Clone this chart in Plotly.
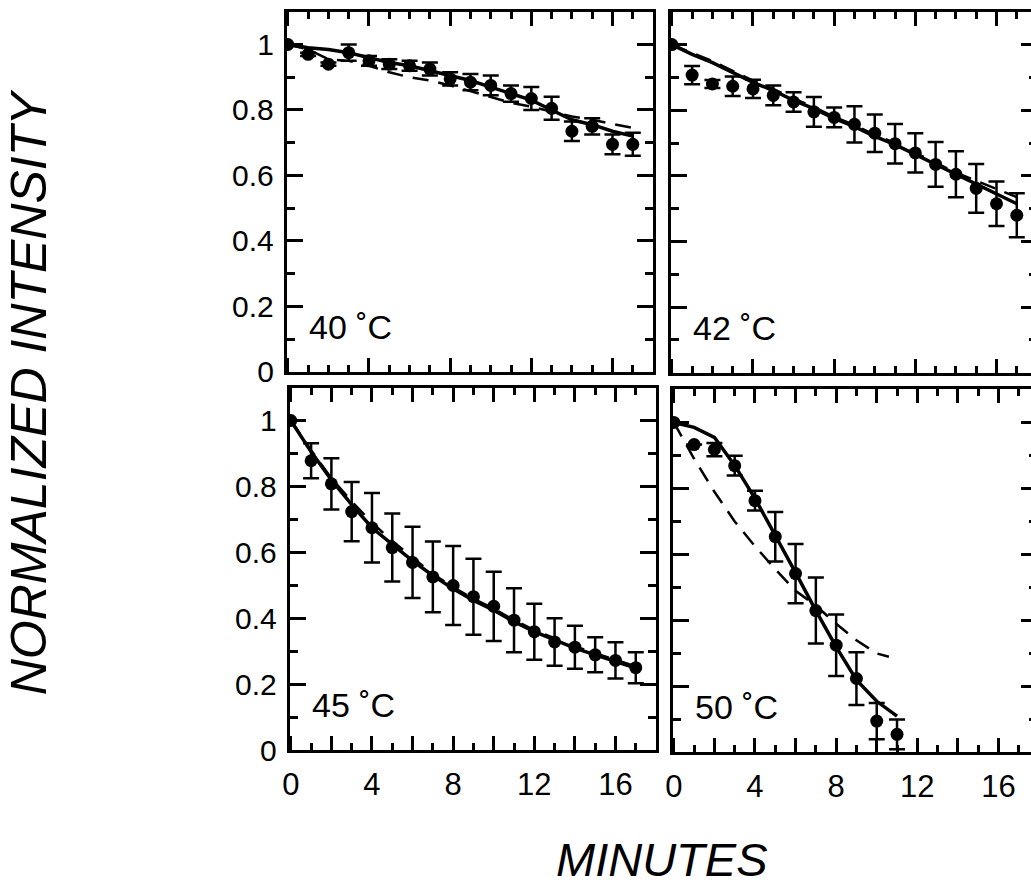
import plotly.graph_objects as go

# ---------------- data ----------------
minutes = list(range(18))

i40 = [1.0, 0.97, 0.94, 0.975, 0.95, 0.94, 0.935, 0.925, 0.895, 0.885, 0.875, 0.85, 0.835, 0.805, 0.735, 0.75, 0.695, 0.695]
e40 = [0, 0.005, 0.005, 0.025, 0.015, 0.015, 0.015, 0.02, 0.02, 0.025, 0.03, 0.025, 0.035, 0.035, 0.03, 0.025, 0.03, 0.035]
s40 = [1.0, 0.99, 0.985, 0.975, 0.96, 0.945, 0.935, 0.92, 0.905, 0.89, 0.87, 0.85, 0.83, 0.80, 0.77, 0.755, 0.735, 0.72]
d40 = [1.0, 0.985, 0.955, 0.95, 0.935, 0.915, 0.90, 0.89, 0.875, 0.857, 0.84, 0.822, 0.81, 0.795, 0.78, 0.77, 0.757, 0.745]

i42 = [1.0, 0.907, 0.88, 0.873, 0.865, 0.845, 0.825, 0.795, 0.778, 0.757, 0.73, 0.698, 0.67, 0.635, 0.605, 0.562, 0.515, 0.48]
e42 = [0, 0.028, 0.012, 0.03, 0.028, 0.03, 0.03, 0.045, 0.03, 0.055, 0.057, 0.06, 0.06, 0.068, 0.07, 0.074, 0.068, 0.067]
s42 = [1.0, 0.97, 0.945, 0.915, 0.885, 0.86, 0.83, 0.805, 0.775, 0.75, 0.72, 0.695, 0.665, 0.635, 0.605, 0.575, 0.545, 0.515]
d42 = [1.0, 0.975, 0.95, 0.92, 0.89, 0.865, 0.835, 0.81, 0.78, 0.755, 0.725, 0.70, 0.67, 0.64, 0.61, 0.585, 0.56, 0.535]

i45 = [1.0, 0.878, 0.808, 0.724, 0.675, 0.615, 0.57, 0.526, 0.50, 0.466, 0.437, 0.395, 0.36, 0.329, 0.313, 0.29, 0.273, 0.251]
e45 = [0, 0.053, 0.078, 0.09, 0.105, 0.103, 0.108, 0.107, 0.12, 0.115, 0.105, 0.097, 0.085, 0.072, 0.065, 0.053, 0.055, 0.047]
s45 = [1.0, 0.905, 0.82, 0.745, 0.675, 0.625, 0.575, 0.53, 0.49, 0.455, 0.425, 0.39, 0.36, 0.335, 0.31, 0.29, 0.27, 0.25]
d45 = [1.0, 0.91, 0.825, 0.755, 0.69, 0.635, 0.585, 0.535, 0.495, 0.46, 0.43, 0.395, 0.365, 0.34, 0.315, 0.295, 0.275, 0.255]

minutes50 = list(range(12))
i50 = [1.0, 0.933, 0.918, 0.869, 0.763, 0.654, 0.542, 0.43, 0.325, 0.224, 0.095, 0.055]
e50 = [0, 0.0, 0.02, 0.03, 0.03, 0.075, 0.09, 0.10, 0.093, 0.08, 0.055, 0.045]
s50 = [1.0, 0.985, 0.955, 0.87, 0.77, 0.66, 0.545, 0.43, 0.32, 0.22, 0.155, 0.11]
dx50 = [0, 1, 2, 3, 4, 5, 6, 7, 8, 9, 10, 10.6]
d50 = [1.0, 0.89, 0.79, 0.70, 0.625, 0.555, 0.49, 0.445, 0.39, 0.34, 0.30, 0.29]

panel_labels = ["40 ˚C", "42 ˚C", "45 ˚C", "50 ˚C"]
y_tickvals = [0, 0.2, 0.4, 0.6, 0.8, 1.0]
y_ticktext = ["0", "0.2", "0.4", "0.6", "0.8", "1"]
x_tickvals = [0, 2, 4, 6, 8, 10, 12, 14, 16]
x_ticktext = ["0", "", "4", "", "8", "", "12", "", "16"]

# ---------------- figure ----------------
W, H = 1031, 896
FONT = "Liberation Sans, Arial, Helvetica, sans-serif"

def px_x(a, b):
    return [a / W, b / W]

def px_y(top, bottom):
    return [(H - bottom) / H, (H - top) / H]

panels = [
    ("x", "y", (281, 650), (12, 379), minutes, i40, e40, minutes, s40, minutes, d40),
    ("x2", "y2", (668, 1031), (12, 380), minutes, i42, e42, minutes, s42, minutes, d42),
    ("x3", "y3", (284, 653), (395, 765), minutes, i45, e45, minutes, s45, minutes, d45),
    ("x4", "y4", (670, 1031), (397, 767), minutes50, i50, e50, minutes50, s50, dx50, d50),
]

PXMIN = 20.45
fig = go.Figure()

for k, (xa, ya, xd, yd, mx, my, me, sx, sy, dx, dy) in enumerate(panels):
    fig.add_trace(go.Scatter(x=dx, y=dy, mode="lines", xaxis=xa, yaxis=ya,
                             line=dict(color="black", width=2.5, dash="16px,10px"),
                             showlegend=False))
    fig.add_trace(go.Scatter(x=sx, y=sy, mode="lines", xaxis=xa, yaxis=ya,
                             line=dict(color="black", width=3.5),
                             showlegend=False))
    fig.add_trace(go.Scatter(x=mx, y=my, mode="markers", xaxis=xa, yaxis=ya,
                             marker=dict(color="black", size=13),
                             error_y=dict(type="data", array=me, visible=True,
                                          color="black", thickness=2.5, width=8),
                             showlegend=False))

layout = dict(width=W, height=H, margin=dict(l=0, r=0, t=0, b=0),
              paper_bgcolor="white", plot_bgcolor="white", showlegend=False,
              font=dict(family=FONT, color="black"))

for k, (xa, ya, xd, yd, *_rest) in enumerate(panels):
    xn = "xaxis" + xa[1:]
    yn = "yaxis" + ya[1:]
    left_col = k in (0, 2)
    bottom_row = k in (2, 3)
    x0 = -0.05
    x1 = x0 + (xd[1] - xd[0]) / PXMIN
    layout[xn] = dict(domain=px_x(*xd), range=[x0, x1], anchor=ya,
                      showline=True, linecolor="black", linewidth=3, mirror="ticks",
                      ticks="inside", ticklen=14, tickwidth=3, tickcolor="black",
                      tickvals=x_tickvals, ticktext=x_ticktext,
                      showticklabels=bottom_row, ticklabelstandoff=4,
                      tickfont=dict(size=31, family=FONT, color="black"),
                      minor=dict(dtick=1, ticklen=7, tickwidth=2.5, tickcolor="black", ticks="inside"),
                      showgrid=False, zeroline=False, fixedrange=True)
    layout[yn] = dict(domain=px_y(*yd), range=[0, 1.1], anchor=xa,
                      showline=True, linecolor="black", linewidth=3,
                      mirror="ticks" if left_col else False,
                      ticks="inside", ticklen=16, tickwidth=3, tickcolor="black",
                      tickvals=y_tickvals, ticktext=y_ticktext,
                      showticklabels=left_col, ticklabelstandoff=4,
                      tickfont=dict(size=30, family=FONT, color="black"),
                      minor=dict(dtick=0.1, ticklen=8, tickwidth=2.5, tickcolor="black", ticks="inside"),
                      showgrid=False, zeroline=False, fixedrange=True)

# right-edge ticks for the cut-off right column (panel border lies past the page edge)
for n, (ya, yd) in zip((5, 6), (("y2", (12, 380)), ("y4", (397, 767)))):
    layout["yaxis%d" % n] = dict(domain=px_y(*yd), range=[0, 1.1], overlaying=ya,
                                  side="right", anchor="free", position=1.0,
                                  showline=False, ticks="inside", ticklen=10, tickwidth=3,
                                  tickcolor="black", tickvals=y_tickvals,
                                  showticklabels=False,
                                  minor=dict(dtick=0.1, ticklen=2, tickwidth=2.5,
                                             tickcolor="black", ticks="inside"),
                                  showgrid=False, zeroline=False, fixedrange=True)

fig.update_layout(**layout)

fig.add_trace(go.Scatter(x=[None], y=[None], xaxis="x2", yaxis="y5", showlegend=False))
fig.add_trace(go.Scatter(x=[None], y=[None], xaxis="x4", yaxis="y6", showlegend=False))

annotations = []
for k, (xa, ya, *_r) in enumerate(panels):
    annotations.append(dict(text=panel_labels[k], xref=xa + " domain", yref=ya + " domain",
                            x=0.055, y=0.125, xanchor="left", yanchor="middle",
                            showarrow=False, font=dict(size=34, family=FONT, color="black")))
annotations.append(dict(text="<i>NORMALIZED INTENSITY</i>", xref="paper", yref="paper",
                        x=22 / W, y=(H - 400) / H, textangle=-90, xanchor="center", yanchor="middle",
                        showarrow=False, font=dict(size=50, family=FONT, color="black")))
annotations.append(dict(text="<i>MINUTES</i>", xref="paper", yref="paper",
                        x=659 / W, y=(H - 876) / H, xanchor="center", yanchor="middle",
                        showarrow=False, font=dict(size=47, family=FONT, color="black")))
fig.update_layout(annotations=annotations)

fig.write_html("out.html", config={"displayModeBar": False})
